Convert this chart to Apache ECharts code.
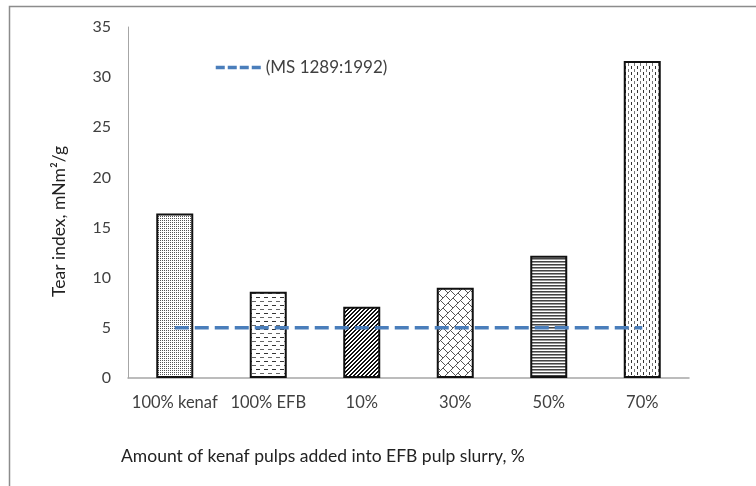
<!DOCTYPE html>
<html>
	<head>
		<meta charset="utf-8">
		<title>Tear index</title>
		<style>
		html,body { height:100%; width:100%; margin:0; padding:0; background:#fff; }
		</style>
		<script src="https://cdn.jsdelivr.net/npm/echarts@6/dist/echarts.min.js"></script>
	</head>
	<body>
		<div id="chart" style="height:486px;width:756px;"></div>
		<script type="text/javascript">
			var categories = ['100% kenaf', '100% EFB', '10%', '30%', '50%', '70%'];
			var tearIndex = [16.4, 8.6, 7.1, 9.0, 12.2, 31.6];
			var standard = [5, 5, 5, 5, 5, 5];
			var standardName = '(MS 1289:1992)';

			var FONT = 'Lato, "Open Sans", sans-serif';
			var TEXT = '#404040';

			// pattern tiles drawn pixel by pixel
			function tile(w, h, px) {
				var c = document.createElement('canvas');
				c.width = w; c.height = h;
				var ctx = c.getContext('2d');
				ctx.fillStyle = '#fff';
				ctx.fillRect(0, 0, w, h);
				for (var x = 0; x < w; x++) {
					for (var y = 0; y < h; y++) {
						var col = px(x, y);
						if (col) { ctx.fillStyle = col; ctx.fillRect(x, y, 1, 1); }
					}
				}
				return { image: c, repeat: 'repeat' };
			}

			var patterns = [
				// fine dots
				tile(2, 2, function (x, y) { return (x == 0 && y == 0) ? '#555' : null; }),
				// staggered horizontal dashes
				tile(8, 8, function (x, y) {
					if (y == 1 && x < 4) return '#333';
					if (y == 5 && x >= 4) return '#666';
					return null;
				}),
				// dark diagonal stripes
				tile(4, 4, function (x, y) { return ((x + y) % 4 < 2) ? '#111' : null; }),
				// diagonal brick
				tile(20, 20, function (x, y) {
					var u = (x + y) % 20, v = ((x - y) % 20 + 20) % 20;
					if (u % 10 == 0) return '#555';
					if (u < 10 && v % 10 == 0) return '#555';
					if (u > 10 && v % 10 == 5) return '#555';
					return null;
				}),
				// dense horizontal lines
				tile(2, 3, function (x, y) {
					if (y == 0) return '#444';
					if (y == 1) return '#999';
					return null;
				}),
				// staggered vertical dashes
				tile(6, 6, function (x, y) {
					if (x == 1 && y < 3) return '#333';
					if (x == 4 && y >= 3) return '#777';
					return null;
				})
			];

			var myChart = echarts.init(document.getElementById('chart'));

			var barData = tearIndex.map(function (v, i) {
				return { value: v, itemStyle: { color: patterns[i] } };
			});

			var option = {
				animation: false,
				backgroundColor: '#fff',
				grid: { left: 128, right: 67, top: 27, bottom: 108 },
				legend: {
					left: 214,
					top: 59,
					padding: 0,
					itemWidth: 48,
					itemHeight: 10,
					itemGap: 4,
					data: [standardName],
					itemStyle: { opacity: 0, borderWidth: 0 },
					textStyle: { fontFamily: FONT, fontSize: 17, color: TEXT, padding: [0, 0, 0, -3] },
					lineStyle: { type: [9, 3], width: 3.5 }
				},
				xAxis: {
					type: 'category',
					data: categories,
					axisLine: { lineStyle: { color: '#a6a6a6', width: 1.5 } },
					axisTick: { show: false },
					axisLabel: { interval: 0, fontFamily: FONT, fontSize: 16.5, color: TEXT, margin: 16 }
				},
				yAxis: {
					type: 'value',
					min: 0,
					max: 35,
					interval: 5,
					splitLine: { show: false },
					axisLine: { show: true, lineStyle: { color: '#a6a6a6', width: 1 } },
					axisTick: { show: false },
					axisLabel: { fontFamily: FONT, fontSize: 16, color: TEXT, margin: 17 },
					name: 'Tear index, mNm\u00b2/g',
					nameLocation: 'middle',
					nameGap: 60,
					nameTextStyle: { fontFamily: FONT, fontSize: 17.5, color: '#222', padding: [0, 0, 0, -38] }
				},
				graphic: [
					{
						type: 'polyline',
						shape: { points: [[9.5, 486], [9.5, 6.5], [756, 6.5]] },
						style: { stroke: '#8c8c8c', lineWidth: 1.5, fill: null },
						silent: true
					},
					{
						type: 'text',
						left: 121,
						top: 447,
						style: {
							text: 'Amount of kenaf pulps added into EFB pulp slurry, %',
							font: '17.5px ' + FONT,
							fill: '#222'
						}
					}
				],
				series: [
					{
						name: 'Tear index',
						type: 'bar',
						barWidth: 37,
						data: barData,
						itemStyle: { borderColor: '#111', borderWidth: 2 }
					},
					{
						name: standardName,
						type: 'line',
						data: standard,
						symbol: 'none',
						z: 5,
						itemStyle: { color: '#4a7ebb' },
						lineStyle: { color: '#4a7ebb', width: 3.5, type: [14, 6] }
					}
				]
			};
			myChart.setOption(option);
		</script>
	</body>
</html>
